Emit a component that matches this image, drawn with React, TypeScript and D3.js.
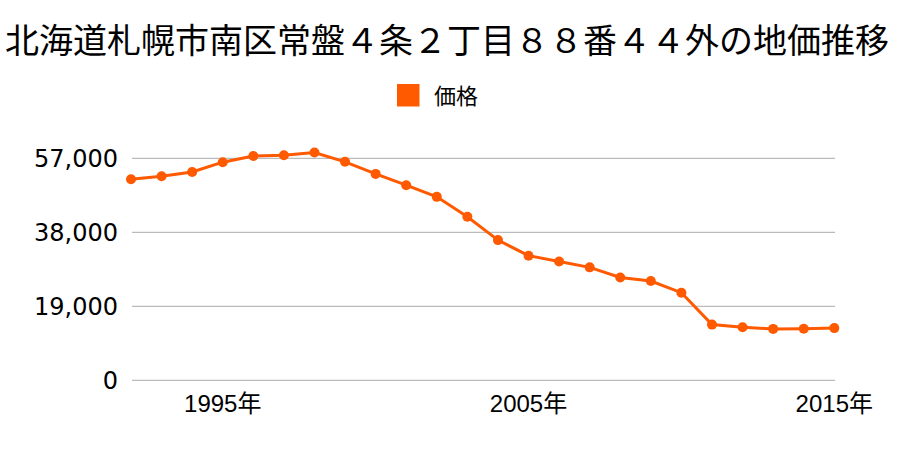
import React from "react";
import * as d3 from "d3";

const title = "北海道札幌市南区常盤４条２丁目８８番４４外の地価推移";
const seriesName = "価格";
const years = [1992, 1993, 1994, 1995, 1996, 1997, 1998, 1999, 2000, 2001, 2002, 2003, 2004, 2005, 2006, 2007, 2008, 2009, 2010, 2011, 2012, 2013, 2014, 2015];
const prices = [51600, 52400, 53500, 56000, 57600, 57800, 58500, 56100, 53000, 50100, 47100, 42000, 36000, 32000, 30500, 29000, 26400, 25500, 22500, 14300, 13600, 13200, 13250, 13400];
const yTicks = [0, 19000, 38000, 57000];
const xTicks = [1995, 2005, 2015];

const W = 900;
const H = 450;
const color = "#ff5a00";
const cjk = "'Noto Sans CJK JP', 'Noto Sans', sans-serif";
const num = "'DejaVu Sans', sans-serif";
const xnum = "'Liberation Sans', 'Noto Sans CJK JP', sans-serif";

export default function App() {
  const x = d3.scaleLinear().domain([1992, 2015]).range([131, 834.3]);
  const y = d3.scaleLinear().domain([0, 57000]).range([380.3, 158.3]);
  const line = d3
    .line<number>()
    .x((_, i) => x(years[i]))
    .y((d) => y(d));
  const fmt = d3.format(",");
  return (
    <svg
      width={W}
      height={H}
      style={{ position: "absolute", left: 0, top: 0, background: "#fff" }}
      fontFamily={cjk}
    >
      <text x={447} y={53} textAnchor="middle" fontSize={34} fill="#000">
        {title}
      </text>
      <rect x={397} y={84} width={22.5} height={22.5} fill={color} />
      <text x={434} y={104} fontSize={22} fill="#000">
        {seriesName}
      </text>
      {yTicks.map((t) => (
        <g key={t}>
          <line x1={132} x2={835} y1={y(t)} y2={y(t)} stroke="#aaa" strokeWidth={1} />
          <text x={118} y={y(t) + 8.4} textAnchor="end" fontSize={24} fontFamily={num} fill="#000">
            {fmt(t)}
          </text>
        </g>
      ))}
      {xTicks.map((t) => (
        <text key={t} x={x(t)} y={411.7} textAnchor="middle" fontSize={24} fill="#000">
          <tspan fontFamily={xnum}>{t}</tspan>
          <tspan fontFamily={cjk}>年</tspan>
        </text>
      ))}
      <path d={line(prices) || ""} fill="none" stroke={color} strokeWidth={3} />
      {prices.map((p, i) => (
        <circle key={i} cx={x(years[i])} cy={y(p)} r={5} fill={color} />
      ))}
    </svg>
  );
}
